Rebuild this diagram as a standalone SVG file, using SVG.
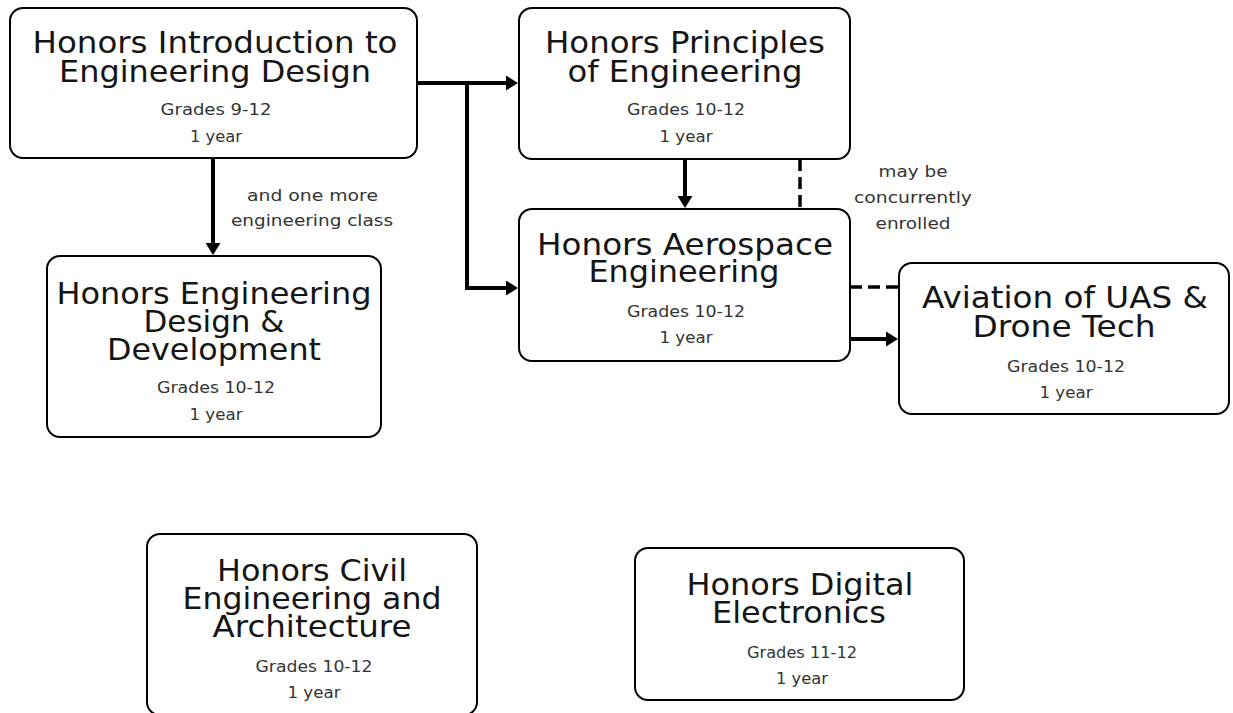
<svg xmlns="http://www.w3.org/2000/svg" width="1233" height="713" viewBox="0 0 1233 713">
<style>
.box{fill:#fff;stroke:#000;stroke-width:2}
.t{font-family:"DejaVu Sans","Liberation Sans",sans-serif;font-size:30px;fill:#151515;text-anchor:middle}
.s{font-family:"DejaVu Sans","Liberation Sans",sans-serif;font-size:16px;fill:#333;text-anchor:middle}
.c{fill:none;stroke:#000;stroke-width:4}
.d{fill:none;stroke:#000;stroke-width:3.5;stroke-dasharray:12 6}
</style>
<defs>
<marker id="ah" viewBox="0 0 12 15" refX="4" refY="7.5" markerWidth="12" markerHeight="15" markerUnits="userSpaceOnUse" orient="auto">
<path d="M0,0 L12,7.5 L0,15 Z" fill="#000"/>
</marker>
</defs>
<rect width="1233" height="713" fill="#fff"/>

<g id="connectors">
<path class="c" d="M417,83 H510" marker-end="url(#ah)"/>
<path class="c" d="M467,83 V288 H510" marker-end="url(#ah)"/>
<path class="c" d="M213,158 V247" marker-end="url(#ah)"/>
<path class="c" d="M685,159 V200" marker-end="url(#ah)"/>
<path class="c" d="M850,339 H890" marker-end="url(#ah)"/>
<path class="d" d="M800,159 V209"/>
<path class="d" d="M850,287 H899"/>
<text class="s" x="312.5" y="201" textLength="131" lengthAdjust="spacingAndGlyphs">and one more</text>
<text class="s" x="312" y="226" textLength="162" lengthAdjust="spacingAndGlyphs">engineering class</text>
<text class="s" x="913" y="177" textLength="69" lengthAdjust="spacingAndGlyphs">may be</text>
<text class="s" x="913" y="203" textLength="118" lengthAdjust="spacingAndGlyphs">concurrently</text>
<text class="s" x="913" y="229" textLength="75" lengthAdjust="spacingAndGlyphs">enrolled</text>
</g>

<g id="intro">
<rect class="box" x="10" y="8" width="407" height="150" rx="13"/>
<text class="t" x="215" y="53" textLength="365" lengthAdjust="spacingAndGlyphs">Honors Introduction to</text>
<text class="t" x="215" y="82" textLength="312" lengthAdjust="spacingAndGlyphs">Engineering Design</text>
<text class="s" x="216" y="115" textLength="111" lengthAdjust="spacingAndGlyphs">Grades 9-12</text>
<text class="s" x="216" y="142" textLength="52" lengthAdjust="spacingAndGlyphs">1 year</text>
</g>

<g id="principles">
<rect class="box" x="519" y="8" width="331" height="151" rx="13"/>
<text class="t" x="685" y="53" textLength="280" lengthAdjust="spacingAndGlyphs">Honors Principles</text>
<text class="t" x="685" y="82" textLength="235" lengthAdjust="spacingAndGlyphs">of Engineering</text>
<text class="s" x="686" y="115" textLength="118" lengthAdjust="spacingAndGlyphs">Grades 10-12</text>
<text class="s" x="686" y="142" textLength="53" lengthAdjust="spacingAndGlyphs">1 year</text>
</g>

<g id="aerospace">
<rect class="box" x="519" y="209" width="331" height="152" rx="13"/>
<text class="t" x="685" y="255" textLength="296" lengthAdjust="spacingAndGlyphs">Honors Aerospace</text>
<text class="t" x="684" y="282" textLength="191" lengthAdjust="spacingAndGlyphs">Engineering</text>
<text class="s" x="686" y="317" textLength="118" lengthAdjust="spacingAndGlyphs">Grades 10-12</text>
<text class="s" x="686" y="343" textLength="53" lengthAdjust="spacingAndGlyphs">1 year</text>
</g>

<g id="aviation">
<rect class="box" x="899" y="263" width="330" height="151" rx="13"/>
<text class="t" x="1065" y="308" textLength="286" lengthAdjust="spacingAndGlyphs">Aviation of UAS &amp;</text>
<text class="t" x="1064" y="337" textLength="183" lengthAdjust="spacingAndGlyphs">Drone Tech</text>
<text class="s" x="1066" y="372" textLength="118" lengthAdjust="spacingAndGlyphs">Grades 10-12</text>
<text class="s" x="1066" y="398" textLength="53" lengthAdjust="spacingAndGlyphs">1 year</text>
</g>

<g id="edd">
<rect class="box" x="47" y="256" width="334" height="181" rx="13"/>
<text class="t" x="214" y="304" textLength="315" lengthAdjust="spacingAndGlyphs">Honors Engineering</text>
<text class="t" x="214" y="332" textLength="141" lengthAdjust="spacingAndGlyphs">Design &amp;</text>
<text class="t" x="214" y="360" textLength="214" lengthAdjust="spacingAndGlyphs">Development</text>
<text class="s" x="216" y="393" textLength="118" lengthAdjust="spacingAndGlyphs">Grades 10-12</text>
<text class="s" x="216" y="420" textLength="53" lengthAdjust="spacingAndGlyphs">1 year</text>
</g>

<g id="civil">
<rect class="box" x="147" y="534" width="330" height="181" rx="13"/>
<text class="t" x="312" y="581" textLength="190" lengthAdjust="spacingAndGlyphs">Honors Civil</text>
<text class="t" x="312" y="609" textLength="259" lengthAdjust="spacingAndGlyphs">Engineering and</text>
<text class="t" x="312" y="637" textLength="199" lengthAdjust="spacingAndGlyphs">Architecture</text>
<text class="s" x="314" y="672" textLength="117" lengthAdjust="spacingAndGlyphs">Grades 10-12</text>
<text class="s" x="314" y="698" textLength="53" lengthAdjust="spacingAndGlyphs">1 year</text>
</g>

<g id="digital">
<rect class="box" x="635" y="548" width="329" height="152" rx="13"/>
<text class="t" x="800" y="595" textLength="227" lengthAdjust="spacingAndGlyphs">Honors Digital</text>
<text class="t" x="799" y="623" textLength="174" lengthAdjust="spacingAndGlyphs">Electronics</text>
<text class="s" x="802" y="658" textLength="110" lengthAdjust="spacingAndGlyphs">Grades 11-12</text>
<text class="s" x="802" y="684" textLength="52" lengthAdjust="spacingAndGlyphs">1 year</text>
</g>
</svg>
